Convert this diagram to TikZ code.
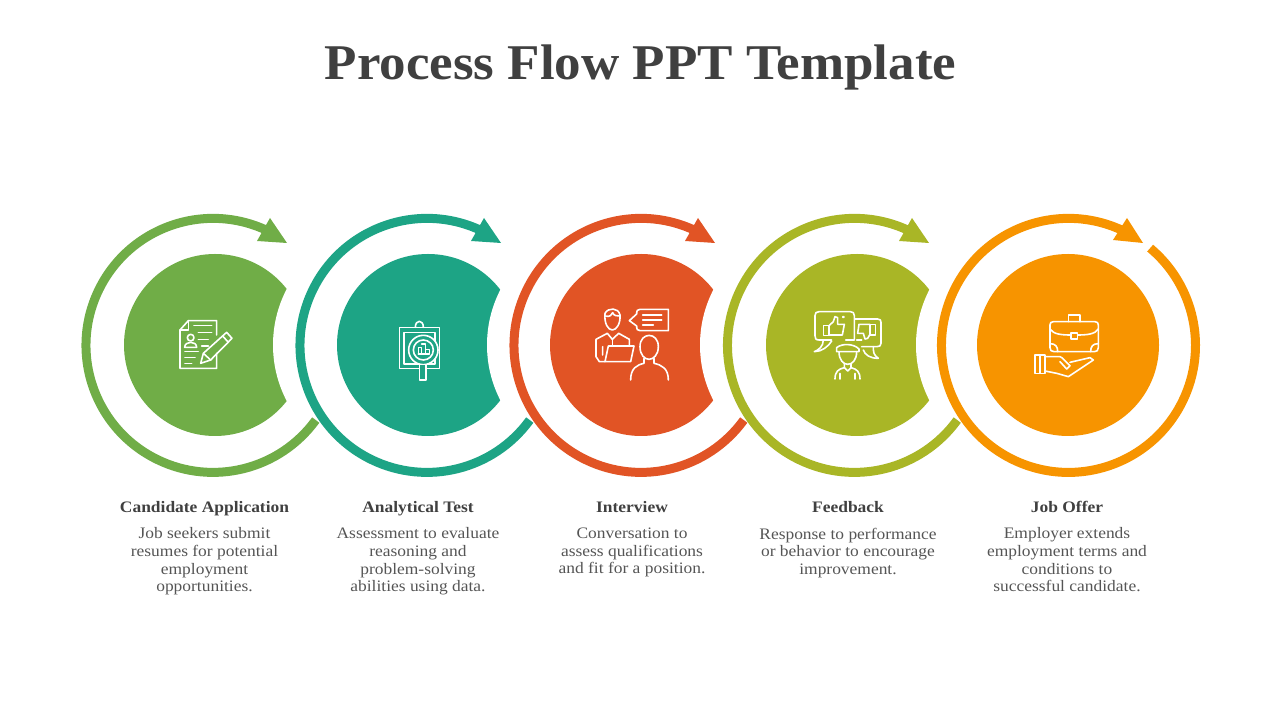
\documentclass[tikz,border=0pt]{standalone}
\usepackage{fontspec}
\setmainfont{Liberation Serif}
\newfontfamily\titlefont[FakeStretch=1.06]{Liberation Serif}
\newfontfamily\headfont[FakeStretch=1.09]{Liberation Serif}
\newfontfamily\bodyfont[FakeStretch=1.09]{Liberation Serif}
\usetikzlibrary{positioning}

\definecolor{cgreen}{HTML}{70AD47}
\definecolor{cteal}{HTML}{1DA485}
\definecolor{cred}{HTML}{E15425}
\definecolor{colive}{HTML}{A9B626}
\definecolor{corange}{HTML}{F79400}
\definecolor{cdark}{HTML}{404040}
\definecolor{cgrey}{HTML}{555555}

\begin{document}
\begin{tikzpicture}[
  x=1pt, y=1pt,
  ring/.style={line width=9pt},
  icon/.style={draw=white, line width=1.6pt, line join=round, line cap=round},
  zoomed/.style={x=0.3333pt, y=-0.3333pt},
  titletext/.style={text=cdark, font=\titlefont\fontsize{50}{50}\selectfont\bfseries},
  headtext/.style={text=cdark, font=\headfont\fontsize{16}{18}\selectfont\bfseries, inner sep=0pt, text height=11pt, text depth=4pt},
  bodytext/.style={text=cgrey, font=\bodyfont\fontsize{16}{17.6}\selectfont, align=center, inner sep=0pt, execute at begin node=\strut},
  node distance=9pt,
]
\useasboundingbox (0,0) rectangle (1280,720);

\node (title) [titletext] at (640.5,653) {Process Flow PPT Template};

% discs, each with a bite taken out on its right
\fill [cgreen] (215,375) circle (91);
\fill [white] (394,375) circle (121);
\fill [cteal] (428,375) circle (91);
\fill [white] (608,375) circle (121);
\fill [cred] (641,375) circle (91);
\fill [white] (821,375) circle (121);
\fill [colive] (857,375) circle (91);
\fill [white] (1037,375) circle (121);
\fill [corange] (1068,375) circle (91);

% rings
\draw [ring, cgreen] (213,374.6) ++(64:127) arc (64:324:127);
\fill [cgreen] (257,479) -- (270,502) -- (287,477) -- cycle;
\draw [ring, cteal] (427,374.6) ++(64:127) arc (64:324:127);
\fill [cteal] (471,479) -- (484,502) -- (501,477) -- cycle;
\draw [ring, cred] (641,374.6) ++(64:127) arc (64:324:127);
\fill [cred] (685,479) -- (698,502) -- (715,477) -- cycle;
\draw [ring, colive] (854.5,374.6) ++(64:127) arc (64:324:127);
\fill [colive] (899,479) -- (912,502) -- (929,477) -- cycle;
\draw [ring, corange] (1068.5,374.6) ++(64:127) arc (64:410:127);
\fill [corange] (1113,480) -- (1127,502) -- (1143,477) -- cycle;

% document and pencil
\begin{scope}[shift={(170,410)}, zoomed]
  \draw [icon] (140,75) -- (140,32) -- (55,32) -- (30,60) -- (30,175) -- (140,175) -- (140,130);
  \draw [icon] (30,60) -- (55,60) -- (55,32);
  \draw [icon] (72,46) -- (125,46) (85,67) -- (125,67) (85,88) -- (115,88) (95,108) -- (115,108);
  \draw [icon] (45,125) -- (85,125) (45,143) -- (75,143) (45,160) -- (65,160);
  \draw [icon] (62,83) circle (10);
  \draw [icon] (44,112) .. controls (44,92) and (80,92) .. (80,112) -- cycle;
  \draw [icon] (92,160) -- (100,130) -- (170,67) -- (186,85) -- (122,150) -- cycle;
  \draw [icon] (100,130) -- (122,150) (158,78) -- (175,97);
\end{scope}

% clipboard and magnifier
\begin{scope}[shift={(390,410)}, zoomed]
  \draw [icon] (28,52) rectangle (148,175);
  \draw [icon] (42,67) rectangle (135,162);
  \draw [icon] (76,52) .. controls (76,28) and (100,28) .. (100,52);
  \draw [icon, fill=cteal] (100,120) circle (44);
  \draw [icon] (100,120) circle (30);
  \draw [icon, fill=cteal] (88,166) -- (88,210) -- (108,210) -- (108,166);
  \draw [icon] (85,132) -- (85,113) -- (95,113) -- (95,132) (95,102) -- (107,102) -- (107,132) (107,118) -- (118,118) -- (118,132) (85,132) -- (118,132);
\end{scope}

% interviewer with laptop and candidate
\begin{scope}[shift={(590,420)}, zoomed]
  \draw [icon] (45,40) .. controls (55,22) and (85,22) .. (90,45) .. controls (92,70) and (80,90) .. (67,90) .. controls (54,90) and (42,70) .. (45,40);
  \draw [icon] (45,48) .. controls (60,52) and (65,45) .. (68,38) .. controls (72,48) and (80,48) .. (90,48);
  \draw [icon] (18,170) -- (18,118) -- (52,100) -- (67,118) -- (86,100) -- (118,118) -- (118,135);
  \draw [icon] (55,138) -- (132,138) -- (122,185) -- (45,185) -- cycle;
  \draw [icon] (18,170) -- (28,185) -- (45,185) (38,140) -- (38,165);
  \draw [icon] (67,120) -- (67,135);
  \draw [icon] (140,42) .. controls (140,32) and (142,28) .. (150,28) -- (235,28) -- (235,92) -- (150,92) .. controls (142,92) and (140,88) .. (140,78) -- (118,62) -- cycle;
  \draw [icon] (158,45) -- (215,45) (158,60) -- (215,60) (158,75) -- (190,75);
  \draw [icon] (150,140) .. controls (150,95) and (205,95) .. (205,140) .. controls (205,165) and (190,178) .. (177,178) .. controls (164,178) and (150,165) .. (150,140);
  \draw [icon] (162,175) -- (162,190) .. controls (140,195) and (122,205) .. (122,240);
  \draw [icon] (192,175) -- (192,190) .. controls (215,195) and (235,205) .. (235,240);
\end{scope}

% thumbs up and down with reviewer
\begin{scope}[shift={(805,415)}, zoomed]
  \draw [icon] (80,105) -- (42,105) .. controls (32,105) and (30,100) .. (30,92) -- (30,32) .. controls (30,24) and (34,20) .. (42,20) -- (136,20) .. controls (144,20) and (148,24) .. (148,32) -- (148,105) -- (122,105);
  \draw [icon] (55,105) .. controls (55,125) and (40,135) .. (28,140) .. controls (50,140) and (70,125) .. (80,108);
  \draw [icon] (150,42) -- (218,42) .. controls (226,42) and (228,46) .. (228,52) -- (228,115) .. controls (228,122) and (224,125) .. (216,125) -- (170,125);
  \draw [icon] (205,125) .. controls (205,140) and (205,150) .. (220,160) .. controls (195,160) and (180,150) .. (175,135);
  \draw [icon] (55,62) rectangle (72,92);
  \draw [icon] (72,62) -- (85,50) -- (90,35) -- (98,38) -- (98,58) -- (118,58) -- (112,90) -- (72,90);
  \draw [icon] (115,36) circle (2);
  \draw [icon] (195,58) rectangle (212,90);
  \draw [icon] (195,58) -- (162,58) -- (158,85) -- (175,85) -- (180,102) -- (188,100) -- (195,88);
  \draw [icon] (155,105) -- (170,105);
  \draw [icon] (95,128) .. controls (110,115) and (145,115) .. (162,132) -- (162,140) -- (95,140) -- cycle;
  \draw [icon] (102,140) .. controls (102,165) and (115,178) .. (128,178) .. controls (142,178) and (155,165) .. (155,140);
  \draw [icon] (118,176) -- (118,188) .. controls (100,192) and (90,200) .. (90,222) (138,176) -- (138,188) .. controls (155,192) and (165,200) .. (165,222);
  \draw [icon] (105,222) -- (105,205) (150,222) -- (150,205) (118,188) -- (128,198) -- (138,188);
\end{scope}

% briefcase on a hand
\begin{scope}[shift={(1025,415)}, zoomed]
  \draw [icon] (85,50) -- (210,50) .. controls (217,50) and (220,54) .. (220,60) -- (220,128) .. controls (220,136) and (216,140) .. (208,140) -- (87,140) .. controls (79,140) and (75,136) .. (75,128) -- (75,60) .. controls (75,54) and (78,50) .. (85,50);
  \draw [icon] (130,50) -- (130,30) -- (165,30) -- (165,50);
  \draw [icon] (75,72) .. controls (85,88) and (110,90) .. (138,90) (157,90) .. controls (185,90) and (210,88) .. (220,72);
  \draw [icon] (138,84) rectangle (157,102);
  \draw [icon] (75,116) .. controls (92,116) and (98,125) .. (98,140) (220,116) .. controls (203,116) and (197,125) .. (197,140);
  \draw [icon] (30,150) rectangle (60,205);
  \draw [icon] (45,150) -- (45,205);
  \draw [icon] (60,155) -- (105,155) .. controls (115,158) and (125,175) .. (135,182) -- (125,192) -- (105,170);
  \draw [icon] (135,172) -- (195,158) -- (205,165) -- (130,215) -- (95,205) -- (60,198);
\end{scope}

% labels
\node (head1) [headtext] at (204.5,211) {Candidate Application};
\node (body1) [bodytext, below=11pt of head1] {Job seekers submit\\resumes for potential\\employment\\opportunities.};
\node (head2) [headtext] at (418,211) {Analytical Test};
\node (body2) [bodytext, below=11pt of head2] {Assessment to evaluate\\reasoning and\\problem-solving\\abilities using data.};
\node (head3) [headtext] at (632,211) {Interview};
\node (body3) [bodytext, below=11pt of head3] {Conversation to\\assess qualifications\\and fit for a position.};
\node (head4) [headtext] at (848,211) {Feedback};
\node (body4) [bodytext, below=11pt of head4] {Response to performance\\or behavior to encourage\\improvement.};
\node (head5) [headtext] at (1067,211) {Job Offer};
\node (body5) [bodytext, below=11pt of head5] {Employer extends\\employment terms and\\conditions to\\successful candidate.};

\end{tikzpicture}
\end{document}
